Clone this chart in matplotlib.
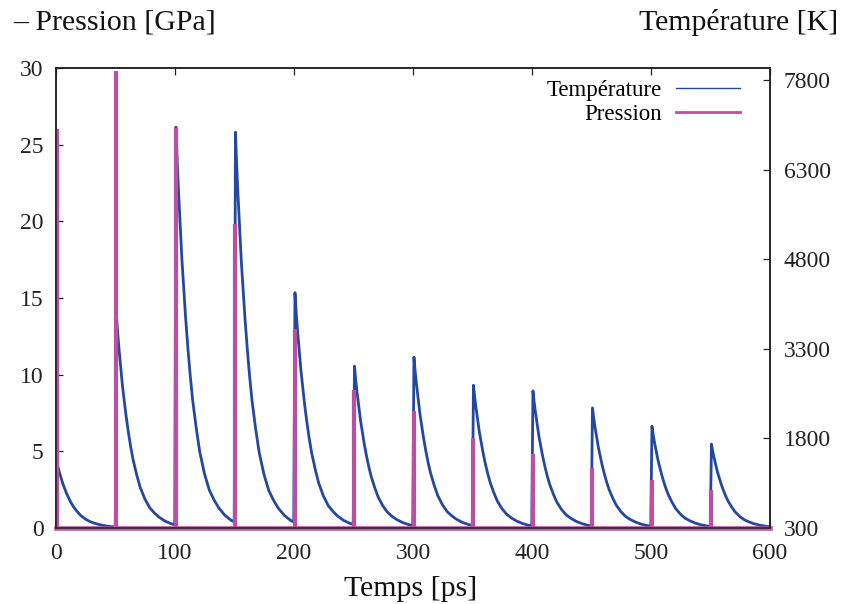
import matplotlib
matplotlib.use("Agg")
import matplotlib.pyplot as plt
from matplotlib.lines import Line2D
import numpy as np

# ---- data ----
pulse_times = [0, 50, 100, 150, 200, 250, 300, 350, 400, 450, 500, 550]   # ps
pressure_peaks = [26.0, 29.8, 26.1, 19.8, 13.0, 9.0, 7.6, 5.9, 4.8, 3.9, 3.1, 2.5]  # GPa (-P)
temperature_peaks = [1400, 3865, 7010, 6925, 4240, 3010, 3160, 2690, 2595, 2310, 2005, 1705]  # K
temperature_base = 300  # K
pulse_lag = 0.8  # ps
# decay of a temperature pulse: offset (ps) -> fraction of peak above base
decay_offsets = [0.0, 1.0, 2.0, 3.0, 4.0, 5.0, 6.5, 8.0, 10.0, 12.0, 14.0, 17.0,
                 20.0, 24.0, 28.0, 32.0, 36.0, 41.0, 46.0, 49.0]
decay_fraction = [1.00, 0.92, 0.85, 0.79, 0.73, 0.67, 0.60, 0.53, 0.45, 0.38, 0.32, 0.25,
                  0.19, 0.135, 0.095, 0.07, 0.05, 0.032, 0.02, 0.015]

x_ticks = [0, 100, 200, 300, 400, 500, 600]
p_ticks = [0, 5, 10, 15, 20, 25, 30]
t_ticks = [300, 1800, 3300, 4800, 6300, 7800]

# ---- build temperature series ----
t_time, t_val = [], []
for tp, pk in zip(pulse_times, temperature_peaks):
    for off, fr in zip(decay_offsets, decay_fraction):
        t_time.append(tp + pulse_lag + off)
        t_val.append(temperature_base + fr * (pk - temperature_base))

blue = "#2448a2"
pink = "#bb4fa0"
font = "Liberation Serif"
plt.rcParams['font.family'] = [font, 'DejaVu Serif']

fig = plt.figure(figsize=(8.47, 6.04), dpi=100)
ax = fig.add_axes([56/847, 1-528/604, (770-56)/847, (528-68)/604])
ax2 = ax.twinx()
ax.set_zorder(ax2.get_zorder() + 1)
ax.patch.set_visible(False)

ax2.plot(t_time, t_val, color=blue, lw=2.0, solid_joinstyle='round')
ax2.set_ylim(300, 8000)
ax2.set_yticks(t_ticks)

ax.plot([0, 600], [0, 0], color=pink, lw=3.4, clip_on=False, alpha=0.9)
ax.vlines([t + pulse_lag for t in pulse_times], 0, pressure_peaks, color=pink, lw=3.0)
ax.set_xlim(0, 600)
ax.set_ylim(0, 30)
ax.set_xticks(x_ticks)
ax.set_yticks(p_ticks)

for a in (ax, ax2):
    for s in a.spines.values():
        s.set_linewidth(1.1)
        s.set_color("#222222")
        s.set_zorder(5)
ax.tick_params(axis='x', direction='in', top=True, bottom=True, length=5, width=0.9,
               labelsize=17, pad=11, colors="#222222")
ax.tick_params(axis='y', direction='in', left=True, right=False, length=5, width=0.9,
               labelsize=17, pad=9, colors="#222222")
ax2.tick_params(axis='y', direction='in', right=True, left=False, length=5, width=0.9,
                labelsize=17, pad=10, colors="#222222")

handles = [Line2D([], [], color=blue, lw=1.0), Line2D([], [], color=pink, lw=2.0)]
ax.legend(handles, ["Température", "Pression"], loc='upper right', frameon=False,
          markerfirst=False, fontsize=16.5, handlelength=2.8, handletextpad=0.6,
          labelspacing=0.15, borderaxespad=0.2, bbox_to_anchor=(0.977, 1.004))

fig.text(13/847, 1-22/604, "– Pression [GPa]", fontsize=21.5, ha='left', va='center', color="#111111")
fig.text(838/847, 1-22/604, "Température [K]", fontsize=21.5, ha='right', va='center', color="#111111")
fig.text(411/847, 1-589/604, "Temps [ps]", fontsize=21.5, ha='center', va='center', color="#111111")

fig.savefig("out.png", dpi=100)
